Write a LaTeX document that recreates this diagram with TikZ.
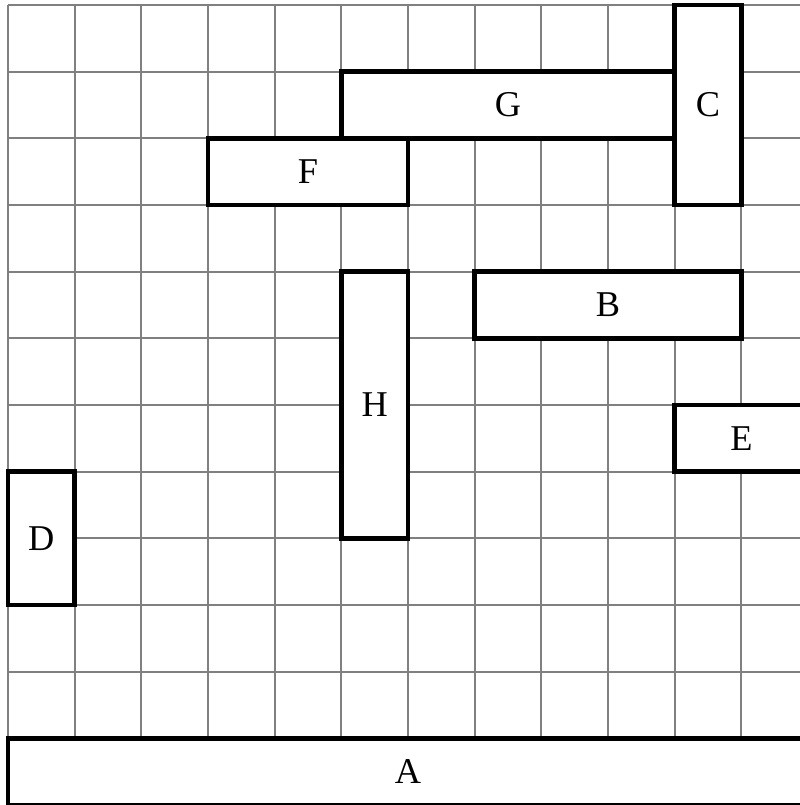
\documentclass[tikz,border=0pt]{standalone}
\usepackage{fontspec}
\setmainfont{Liberation Serif}
\begin{document}
\begin{tikzpicture}[x=1cm,y=1cm,
  gridline/.style={draw=black!50,line width=0.9pt},
  blk/.style={draw=black,fill=white,line width=2pt},
  lbl/.style={font=\fontsize{15.5}{18}\selectfont,inner sep=0pt}]
\useasboundingbox (-0.12,0) rectangle (11.865,12.075);
\draw[gridline] (0,0) grid (12,12);
% A
\draw[blk] (0,0) rectangle (12,1);
\node[lbl] (A) at (6,0.5) {A};
% B
\draw[blk] (7,7) rectangle (11,8);
\node[lbl] (B) at (9,7.5) {B};
% C
\draw[blk] (10,9) rectangle (11,12);
\node[lbl] (C) at (10.5,10.5) {C};
% D
\draw[blk] (0,3) rectangle (1,5);
\node[lbl] (D) at (0.5,4) {D};
% E
\draw[blk] (10,5) rectangle (12,6);
\node[lbl] (E) at (11,5.5) {E};
% F
\draw[blk] (3,9) rectangle (6,10);
\node[lbl] (F) at (4.5,9.5) {F};
% G
\draw[blk] (5,10) rectangle (10,11);
\node[lbl] (G) at (7.5,10.5) {G};
% H
\draw[blk] (5,4) rectangle (6,8);
\node[lbl] (H) at (5.5,6) {H};
\end{tikzpicture}
\end{document}
